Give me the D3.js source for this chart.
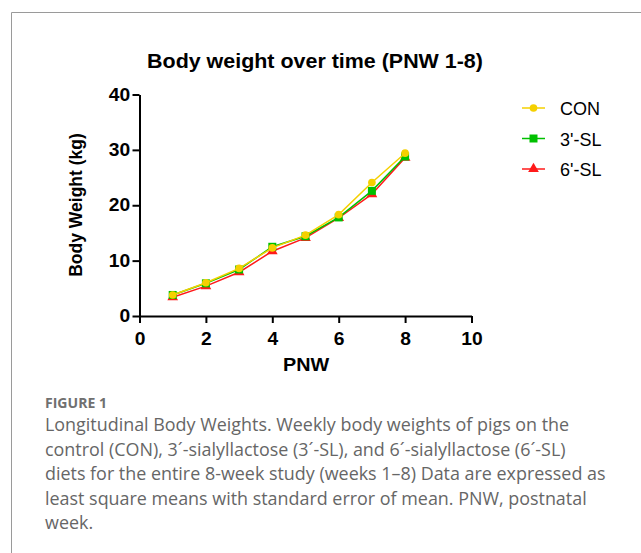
<!DOCTYPE html>
<html>
<head>
<meta charset="utf-8">
<script src="https://cdn.jsdelivr.net/npm/d3@7"></script>
<style>
  body { margin: 0; background: #fff; }
  svg { display: block; }
</style>
</head>
<body>
<div id="chart"></div>
<script>
// data
let weeks = [1, 2, 3, 4, 5, 6, 7, 8]
let con = [3.8, 6.0, 8.6, 12.3, 14.6, 18.3, 24.1, 29.4]
let sl3 = [3.8, 5.9, 8.4, 12.5, 14.4, 17.8, 22.6, 28.8]
let sl6 = [3.4, 5.4, 7.9, 11.7, 14.1, 17.7, 22.0, 28.6]
let xTicks = [0, 2, 4, 6, 8, 10]
let yTicks = [0, 10, 20, 30, 40]
let seriesNames = ["CON", "3'-SL", "6'-SL"]
let captionLines = [
    "Longitudinal Body Weights. Weekly body weights of pigs on the",
    "control (CON), 3\u00b4-sialyllactose (3\u00b4-SL), and 6\u00b4-sialyllactose (6\u00b4-SL)",
    "diets for the entire 8-week study (weeks 1\u20138) Data are expressed as",
    "least square means with standard error of mean. PNW, postnatal",
    "week."
]

let width = 641
let height = 553
let font = "'Liberation Sans', Arial, sans-serif"
let stretch = 1.1 // chart text in the figure is a bit wider than tall

let svg = d3.select('#chart')
    .append('svg')
    .attr("width", width)
    .attr("height", height)

// frame of the figure panel
svg.append("path")
    .attr("d", "M11.5," + height + "V12.5H" + width)
    .attr("fill", "none")
    .attr("stroke", "#9a9a9a")
    .attr("stroke-width", 1)

let x = d3.scaleLinear()
    .domain([0, 10])
    .range([139.5, 471.5])
let y = d3.scaleLinear()
    .domain([0, 40])
    .range([316, 94.5])

function stretchedText(px, py, size, txt) {
    return svg.append("text")
        .attr("transform", "translate(" + px + "," + py + ") scale(" + stretch + ",1)")
        .attr("text-anchor", "middle")
        .style("font-family", font)
        .style("font-weight", "bold")
        .style("font-size", size + "px")
        .text(txt)
}

// title
stretchedText(315, 68, 19.5, "Body weight over time (PNW 1-8)")

let xAxis = svg.append("g")
    .attr("transform", "translate(0," + y(0) + ")")
    .call(d3.axisBottom(x).tickValues(xTicks).tickSize(7).tickSizeOuter(0).tickPadding(10))
let yAxis = svg.append("g")
    .attr("transform", "translate(" + x(0) + ",0)")
    .call(d3.axisLeft(y).tickValues(yTicks).tickSize(7).tickSizeOuter(0).tickPadding(1.5))

for (let ax of [xAxis, yAxis]) {
    ax.select(".domain").attr("stroke", "#000").attr("stroke-width", 2)
    ax.selectAll(".tick line").attr("stroke", "#000").attr("stroke-width", 2)
    ax.selectAll(".tick text")
        .attr("fill", "#000")
        .attr("transform", "scale(" + stretch + ",1)")
        .style("font-family", font)
        .style("font-weight", "bold")
        .style("font-size", "17.5px")
}

// axis titles
stretchedText(306, 371, 18, "PNW")
svg.append("text")
    .attr("transform", "translate(82,205) rotate(-90)")
    .attr("text-anchor", "middle")
    .style("font-family", font)
    .style("font-weight", "bold")
    .style("font-size", "17.5px")
    .text("Body Weight (kg)")

let series = [
    { name: seriesNames[2], values: sl6, color: "#ff1a1a", shape: d3.symbolTriangle, size: 50 },
    { name: seriesNames[1], values: sl3, color: "#00c000", shape: d3.symbolSquare, size: 64 },
    { name: seriesNames[0], values: con, color: "#f5d000", shape: d3.symbolCircle, size: 46 }
]

let line = d3.line()
    .x(d => x(d[0]))
    .y(d => y(d[1]))

// red drawn first, then green, yellow on top
for (let s of series) {
    let pts = weeks.map((w, i) => [w, s.values[i]])
    svg.append("path")
        .datum(pts)
        .attr("d", line)
        .attr("fill", "none")
        .attr("stroke", s.color)
        .attr("stroke-width", 1.5)
    svg.selectAll(null)
        .data(pts)
        .enter()
        .append("path")
        .attr("transform", d => "translate(" + x(d[0]) + "," + y(d[1]) + ")")
        .attr("d", d3.symbol().type(s.shape).size(s.size))
        .attr("fill", s.color)
}

// legend
let legend = svg.append("g")
let legendRows = [series[2], series[1], series[0]]
legendRows.forEach(function(s, i) {
    let ly = 108 + i * 30.5
    legend.append("line")
        .attr("x1", 522)
        .attr("x2", 545)
        .attr("y1", ly)
        .attr("y2", ly)
        .attr("stroke", s.color)
        .attr("stroke-width", 1.5)
    legend.append("path")
        .attr("transform", "translate(533.5," + ly + ")")
        .attr("d", d3.symbol().type(s.shape).size(s.size))
        .attr("fill", s.color)
    legend.append("text")
        .attr("x", 560)
        .attr("y", ly + 7)
        .style("font-family", font)
        .style("font-size", "18px")
        .text(s.name)
})

// caption
let fig = svg.append("text")
    .attr("x", 45)
    .attr("y", 408)
    .attr("fill", "#707070")
    .style("font-family", "'Open Sans', sans-serif")
    .style("font-weight", "700")
    .style("font-size", "12px")
    .text("FIGURE 1")
let wf = fig.node().getComputedTextLength()
fig.style("font-size", (12 * 62 / wf) + "px")

let cap = svg.append("g")
    .attr("fill", "#666")
    .style("font-family", "'Open Sans', sans-serif")
    .style("font-size", "16px")
captionLines.forEach(function(t, i) {
    cap.append("text")
        .attr("x", 45)
        .attr("y", 431 + i * 24.5)
        .text(t)
})
// fit the caption width to the reference (third line ends near x=606)
let w3 = cap.selectAll("text").nodes()[2].getComputedTextLength()
cap.style("font-size", (16 * 561 / w3) + "px")
</script>
</body>
</html>
